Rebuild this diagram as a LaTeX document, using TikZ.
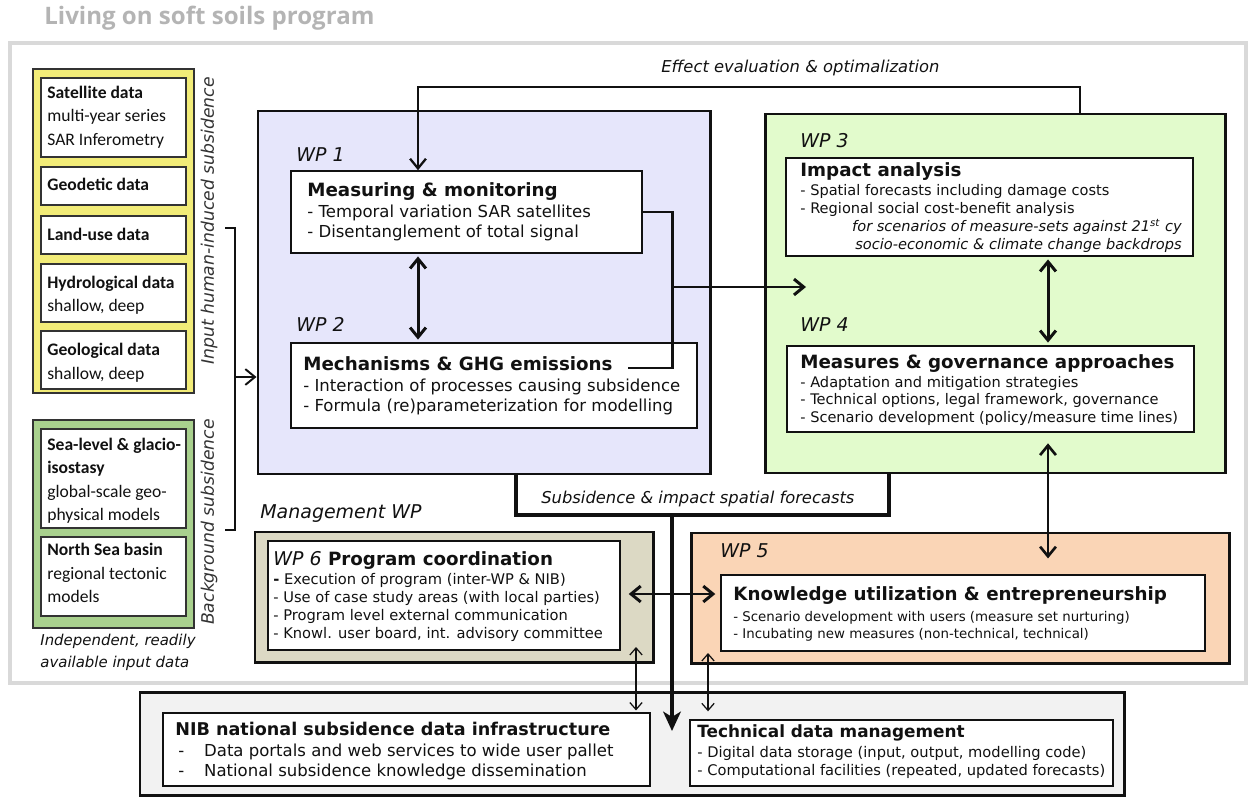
\documentclass[tikz,border=0pt]{standalone}
\usepackage{fontspec}
\setmainfont{DejaVu Sans}
\newfontfamily\carl{Carlito}
\newfontfamily\titlefont{Open Sans}
\usetikzlibrary{arrows.meta,fit}
\definecolor{frameg}{HTML}{D9D9D9}
\definecolor{yel}{HTML}{F2EC78}
\definecolor{lgreen}{HTML}{A9D18E}
\definecolor{lav}{HTML}{E6E6FB}
\definecolor{pgreen}{HTML}{E2FBCC}
\definecolor{tanbg}{HTML}{DCD9C4}
\definecolor{peach}{HTML}{FAD5B6}
\definecolor{botg}{HTML}{F2F2F2}
\definecolor{titleg}{HTML}{B4B4B4}
\definecolor{ink}{HTML}{111111}
\newcommand\mkbox[6]{\path (#2,#3) coordinate (#1nw) (#4,#5) coordinate (#1se);
  \node[#6, fit=(#1nw)(#1se)] (#1) {};}
\tikzset{
  chev/.tip={Straight Barb[length=5.5pt,width=9pt]},
  chevs/.tip={Straight Barb[length=4pt,width=7pt]},
  bigtip/.tip={Stealth[length=11pt,width=10pt,inset=3pt]},
  outerbox/.style={draw=ink, line width=1.7pt, inner sep=0},
  inbox/.style={draw=ink, fill=white, line width=0.9pt, inner sep=0},
  lbox/.style={draw=black!80, line width=1.2pt, inner sep=0},
  conn/.style={draw=ink, line width=1.7pt},
  thinar/.style={draw=ink, line width=0.7pt, chevs-chevs},
  bigline/.style={draw=ink, line width=2.8pt},
  lt/.style={font=\carl\fontsize{10}{12}\selectfont, anchor=mid west, inner sep=0, text=ink},
  ltb/.style={font=\carl\bfseries\fontsize{10}{12}\selectfont, anchor=mid west, inner sep=0, text=ink},
  rot/.style={font=\itshape\fontsize{9.8}{11}\selectfont, inner sep=0, text=black!80, rotate=90},
  hd/.style={font=\bfseries\fontsize{10.4}{12}\selectfont, anchor=mid west, inner sep=0, text=ink},
  bd/.style={font=\fontsize{9.4}{11}\selectfont, anchor=mid west, inner sep=0, text=ink},
  sm/.style={font=\fontsize{8.3}{10}\selectfont, anchor=mid west, inner sep=0, text=ink},
  smi/.style={font=\itshape\fontsize{8.3}{10}\selectfont, anchor=mid east, inner sep=0, text=ink},
  xs/.style={font=\fontsize{7.6}{10}\selectfont, anchor=mid west, inner sep=0, text=ink},
  xm/.style={font=\fontsize{8.35}{10}\selectfont, anchor=mid west, inner sep=0, text=ink},
  wpl/.style={font=\itshape\fontsize{10.8}{12}\selectfont, anchor=mid west, inner sep=0, text=ink},
  lab/.style={font=\itshape\fontsize{9.3}{11}\selectfont, anchor=mid west, inner sep=0, text=ink},
}
\begin{document}
\begin{tikzpicture}[x=0.02cm,y=-0.02cm]
\useasboundingbox (0,0) rectangle (1250,797);
% outer program frame
\mkbox{frame}{10}{43}{1246}{683}{draw=frameg, line width=2.2pt, inner sep=0}
\node[font=\titlefont\bfseries\fontsize{13.7}{16}\selectfont, text=titleg, anchor=mid west, inner sep=0] (title) at (44,20) {Living on soft soils program};
% left input panels
\mkbox{yelbox}{33}{69}{194}{393}{lbox, fill=yel}
\mkbox{sat}{41}{78}{186}{157}{lbox, fill=white}
\mkbox{geod}{41}{167}{186}{205}{lbox, fill=white}
\mkbox{land}{41}{216}{186}{254}{lbox, fill=white}
\mkbox{hydro}{41}{264}{186}{322}{lbox, fill=white}
\mkbox{geol}{41}{331}{186}{389}{lbox, fill=white}
\mkbox{grnbox}{33}{420}{194}{628}{lbox, fill=lgreen}
\mkbox{sea}{41}{429}{186}{528}{lbox, fill=white}
\mkbox{north}{41}{537}{186}{616}{lbox, fill=white}
% work package boxes
\mkbox{wpa}{258}{111}{710}{474}{outerbox, fill=lav}
\mkbox{wpb}{765}{114}{1225}{473}{outerbox, fill=pgreen}
\mkbox{wpc}{255}{532}{653}{662}{outerbox, fill=tanbg}
\mkbox{wpd}{691}{533}{1229}{663}{outerbox, fill=peach}
\mkbox{bot}{140}{692}{1124}{795}{outerbox, fill=botg}
\mkbox{wp1}{291}{171}{642}{253}{inbox}
\mkbox{wp2}{291}{343}{697}{428}{inbox}
\mkbox{wp3}{786}{158}{1193}{256}{inbox}
\mkbox{wp4}{787}{346}{1194}{432}{inbox}
\mkbox{wp6}{268}{541}{620}{650}{inbox}
\mkbox{wp5}{721}{575}{1205}{651}{inbox}
\mkbox{nib}{163}{713}{650}{786}{inbox}
\mkbox{tech}{690}{720}{1113}{786}{inbox}
% left bracket
\coordinate (brt) at (225,228);
\coordinate (brb) at (225,530);
\coordinate (brx) at (235,377);
\draw[draw=ink, line width=1.1pt] (brt) -| (brx) |- (brb);
\draw[draw=ink, line width=1.1pt, -chev] (brx) -- (wpa.west |- brx);
% effect evaluation loop
\coordinate (effr) at (1080,87);
\coordinate (effl) at (418,87);
\draw[draw=ink, line width=1.3pt, -chev] (wpb.north -| effr) -- (effr) -- (effl) -- (effl |- wp1.north);
\node[lab] (efflab) at (661,68) {Effect evaluation \& optimalization};
% WP1 <-> WP2
\draw[conn, chev-chev, shorten <=1.5pt, shorten >=1.5pt] (effl |- wp1.south) -- (effl |- wp2.north);
% WP1/WP2 -> WP3/WP4
\coordinate (jb) at (672,368);
\coordinate (m2e) at (628,368);
\coordinate (jm) at (672,287);
\coordinate (a3) at (806,287);
\draw[conn] (wp1.east) -| (jb) -- (m2e);
\draw[conn, -chev] (jm) -- (a3);
% WP3 <-> WP4
\coordinate (v34) at (1048,300);
\draw[conn, chev-chev, shorten <=1.5pt, shorten >=1.5pt] (v34 |- wp3.south) -- (v34 |- wp4.north);
% WP4 <-> WP5
\draw[draw=ink, line width=1.5pt, chev-chev, shorten <=6pt, shorten >=9pt] (v34 |- wp4.south) -- (v34 |- wp5.north);
% subsidence & impact forecasts
\coordinate (sbl) at (516,515);
\coordinate (sbr) at (889,515);
\coordinate (sbm) at (672,515);
\coordinate (btip) at (672,731);
\draw[bigline, line join=miter] (wpa.south -| sbl) -- (sbl) -- (sbr) -- (sbr |- wpb.south);
\draw[bigline, -bigtip] (sbm) -- (btip);
\node[lab] (sblab) at (541,499) {Subsidence \& impact spatial forecasts};
% WP6 <-> WP5
\coordinate (hy) at (700,594);
\draw[conn, chev-chev, shorten <=4.5pt, shorten >=2.8pt] (wp6.east |- hy) -- (wp5.west |- hy);
% thin arrows to data infrastructure
\coordinate (t1) at (636,647);
\coordinate (t2) at (708,653);
\draw[thinar, shorten >=1pt] (t1) -- (t1 |- nib.north);
\draw[thinar, shorten >=4.5pt] (t2) -- (t2 |- tech.north);
% ---------- texts: left panel
\node[ltb] (s1) at (47,94) {Satellite data};
\node[lt] (s2) at (47,117) {multi-year series};
\node[lt] (s3) at (47,141) {SAR Inferometry};
\node[ltb] (g1) at (47,186) {Geodetic data};
\node[ltb] (l1) at (47,236) {Land-use data};
\node[ltb] (h1) at (47,284) {Hydrological data};
\node[lt] (h2) at (47,307) {shallow, deep};
\node[ltb] (q1) at (47,351) {Geological data};
\node[lt] (q2) at (47,375) {shallow, deep};
\node[ltb] (e1) at (47,446) {Sea-level \& glacio-};
\node[ltb] (e2) at (47,469) {isostasy};
\node[lt] (e3) at (47,493) {global-scale geo-};
\node[lt] (e4) at (47,516) {physical models};
\node[ltb] (n1) at (47,551) {North Sea basin};
\node[lt] (n2) at (47,575) {regional tectonic};
\node[lt] (n3) at (47,598) {models};
\node[rot] (r1) at (209,221) {Input human-induced subsidence};
\node[rot] (r2) at (209,522) {Background subsidence};
\node[lab, font=\itshape\fontsize{8.5}{11}\selectfont] (ind1) at (40,641) {Independent, readily};
\node[lab, font=\itshape\fontsize{8.5}{11}\selectfont] (ind2) at (40,663) {available input data};
% WP1
\node[wpl] (wl1) at (296,157) {WP 1};
\node[hd] (w1h) at (307,192) {Measuring \& monitoring};
\node[bd] (w1a) at (307,213) {- Temporal variation SAR satellites};
\node[bd] (w1b) at (307,233) {- Disentanglement of total signal};
% WP2
\node[wpl] (wl2) at (296,327) {WP 2};
\node[hd] (w2h) at (303,366) {Mechanisms \& GHG emissions};
\node[bd] (w2a) at (303,387) {- Interaction of processes causing subsidence};
\node[bd] (w2b) at (303,407) {- Formula (re)parameterization for modelling};
% WP3
\node[wpl] (wl3) at (800,143) {WP 3};
\node[hd] (w3h) at (800,172) {Impact analysis};
\node[sm] (w3a) at (800,191) {- Spatial forecasts including damage costs};
\node[sm] (w3b) at (800,209) {- Regional social cost-benefit analysis};
\node[smi] (w3c) at (1182,227) {for scenarios of measure-sets against 21\textsuperscript{st} cy};
\node[smi] (w3d) at (1182,245) {socio-economic \& climate change backdrops};
% WP4
\node[wpl] (wl4) at (800,327) {WP 4};
\node[hd] (w4h) at (800,364) {Measures \& governance approaches};
\node[sm] (w4a) at (800,383) {- Adaptation and mitigation strategies};
\node[sm] (w4b) at (800,400) {- Technical options, legal framework, governance};
\node[sm] (w4c) at (800,418) {- Scenario development (policy/measure time lines)};
% WP5
\node[wpl] (wl5) at (720,553) {WP 5};
\node[hd] (w5h) at (733,596) {Knowledge utilization \& entrepreneurship};
\node[xs] (w5a) at (733,617) {- Scenario development with users (measure set nurturing)};
\node[xs] (w5b) at (733,634) {- Incubating new measures (non-technical, technical)};
% WP6
\node[wpl] (mgmt) at (260,514) {Management WP};
\node[hd] (w6h) at (273,561) {{\mdseries\itshape\fontsize{10.8}{12}\selectfont WP 6} Program coordination};
\node[xm] (w6a) at (273,580) {{\bfseries -} Execution of program (inter-WP \& NIB)};
\node[xm] (w6b) at (273,598) {- Use of case study areas (with local parties)};
\node[xm] (w6c) at (273,616) {- Program level external communication};
\node[xm] (w6d) at (273,634) {- Knowl. user board, int. advisory committee};
% NIB
\node[hd, font=\bfseries\fontsize{10}{12}\selectfont] (nibh) at (175,731) {NIB national subsidence data infrastructure};
\node[bd] (niba) at (178,752) {\makebox[14.7pt][l]{-}Data portals and web services to wide user pallet};
\node[bd] (nibb) at (178,772) {\makebox[14.7pt][l]{-}National subsidence knowledge dissemination};
% technical data management
\node[hd, font=\bfseries\fontsize{9.6}{12}\selectfont] (techh) at (697,733) {Technical data management};
\node[xm] (techa) at (697,753) {- Digital data storage (input, output, modelling code)};
\node[xm] (techb) at (697,771) {- Computational facilities (repeated, updated forecasts)};
\end{tikzpicture}
\end{document}
